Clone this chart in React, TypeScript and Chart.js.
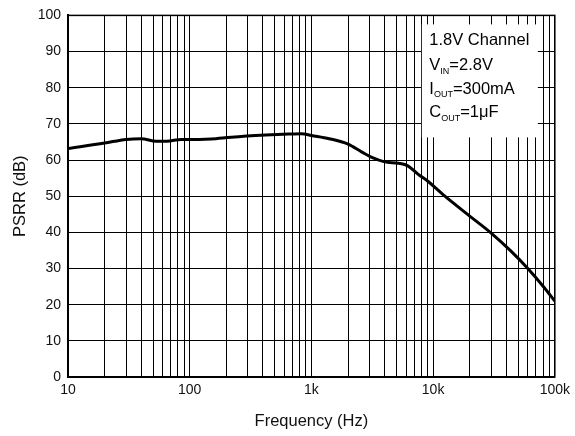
import React, { useEffect, useRef } from 'react';
import { Chart, registerables } from 'chart.js';

Chart.register(...registerables);

const frequencyHz = [10, 20, 30, 40, 53, 65, 85, 120, 150, 220, 420, 650, 830, 1000, 1400, 2000, 2600, 3100, 4000, 5200, 6200, 7500, 9000, 12000, 20000, 30000, 43000, 60000, 82000, 100000];
const psrrDb = [63.2, 64.7, 65.7, 65.9, 65.2, 65.2, 65.7, 65.7, 65.8, 66.3, 66.9, 67.2, 67.3, 66.8, 65.9, 64.4, 62.2, 60.8, 59.5, 59.1, 58.4, 56.1, 54.2, 50.5, 44.5, 39.8, 35.0, 30.0, 24.7, 21.0];

const xGridValues = [
  10, 20, 30, 40, 50, 60, 70, 80, 90,
  100, 200, 300, 400, 500, 600, 700, 800, 900,
  1000, 2000, 3000, 4000, 5000, 6000, 7000, 8000, 9000,
  10000, 20000, 30000, 40000, 50000, 60000, 70000, 80000, 90000,
  100000,
];
const xTickLabels: Record<number, string> = { 10: '10', 100: '100', 1000: '1k', 10000: '10k', 100000: '100k' };
const yMin = 0;
const yMax = 100;
const yStep = 10;

const xTitle = 'Frequency (Hz)';
const yTitle = 'PSRR (dB)';

type Seg = [string, boolean];
const legendLines: Seg[][] = [
  [['1.8V Channel', false]],
  [['V', false], ['IN', true], ['=2.8V', false]],
  [['I', false], ['OUT', true], ['=300mA', false]],
  [['C', false], ['OUT', true], ['=1\u03BCF', false]],
];

const FONT = '"Liberation Sans", Arial, Helvetica, sans-serif';

const annotationPlugin = {
  id: 'annotations',
  beforeDatasetsDraw(chart: any) {
    const { ctx, chartArea: a } = chart;
    ctx.save();
    ctx.strokeStyle = '#000';
    ctx.lineWidth = 1.5;
    ctx.strokeRect(a.left, a.top, a.right - a.left, a.bottom - a.top);
    ctx.restore();
  },
  afterDraw(chart: any) {
    const { ctx, chartArea: a } = chart;
    ctx.save();
    // legend box
    const bx = a.right - 133;
    const by = a.top + 9;
    ctx.fillStyle = '#fff';
    ctx.fillRect(bx, by, 116, 113);
    ctx.fillStyle = '#000';
    ctx.textBaseline = 'alphabetic';
    ctx.textAlign = 'left';
    const baselines = [45, 70, 93.5, 117];
    legendLines.forEach((line, i) => {
      let x = bx + 7.5;
      const y = baselines[i];
      line.forEach(([txt, sub]) => {
        ctx.font = sub ? `9px ${FONT}` : `16.5px ${FONT}`;
        ctx.fillText(txt, x, sub ? y + 3.5 : y);
        x += ctx.measureText(txt).width;
      });
    });
    // axis titles
    ctx.font = `16.5px ${FONT}`;
    ctx.textAlign = 'center';
    ctx.textBaseline = 'middle';
    ctx.fillStyle = '#111';
    ctx.fillText(xTitle, (a.left + a.right) / 2, 421);
    ctx.translate(20, (a.top + a.bottom) / 2);
    ctx.rotate(-Math.PI / 2);
    ctx.fillText(yTitle, 0, 0);
    ctx.restore();
  },
};

export default function App() {
  const ref = useRef<HTMLCanvasElement | null>(null);
  useEffect(() => {
    document.body.style.margin = '0';
    if (!ref.current) return;
    const chart = new Chart(ref.current, {
      type: 'line',
      data: {
        datasets: [
          {
            data: frequencyHz.map((f, i) => ({ x: f, y: psrrDb[i] })),
            borderColor: '#000',
            borderWidth: 3,
            pointRadius: 0,
            cubicInterpolationMode: 'monotone',
            fill: false,
          },
        ],
      },
      options: {
        animation: false,
        responsive: true,
        maintainAspectRatio: false,
        layout: { padding: { top: 13, right: 16, left: 0, bottom: 0 } },
        plugins: { legend: { display: false }, tooltip: { enabled: false } },
        scales: {
          x: {
            type: 'logarithmic',
            min: 10,
            max: 100000,
            afterBuildTicks: (scale: any) => {
              scale.ticks = xGridValues.map((v) => ({ value: v, major: !!xTickLabels[v] }));
            },
            afterFit: (scale: any) => {
              scale.height = 59;
            },
            grid: { color: '#000', lineWidth: 1, drawTicks: false },
            border: { color: '#000', width: 2 },
            ticks: {
              autoSkip: false,
              maxRotation: 0,
              padding: 5,
              color: '#111',
              font: { family: FONT, size: 14 },
              callback: (v: any) => xTickLabels[Number(v)] ?? '',
            },
          },
          y: {
            min: yMin,
            max: yMax,
            afterFit: (scale: any) => {
              scale.width = 68;
            },
            grid: { color: '#000', lineWidth: 1, drawTicks: false },
            border: { color: '#000', width: 2 },
            ticks: {
              stepSize: yStep,
              padding: 7,
              color: '#111',
              font: { family: FONT, size: 14 },
            },
          },
        },
      },
      plugins: [annotationPlugin],
    } as any);
    return () => chart.destroy();
  }, []);
  return (
    <div style={{ position: 'relative', width: 575, height: 436 }}>
      <canvas ref={ref} />
    </div>
  );
}
